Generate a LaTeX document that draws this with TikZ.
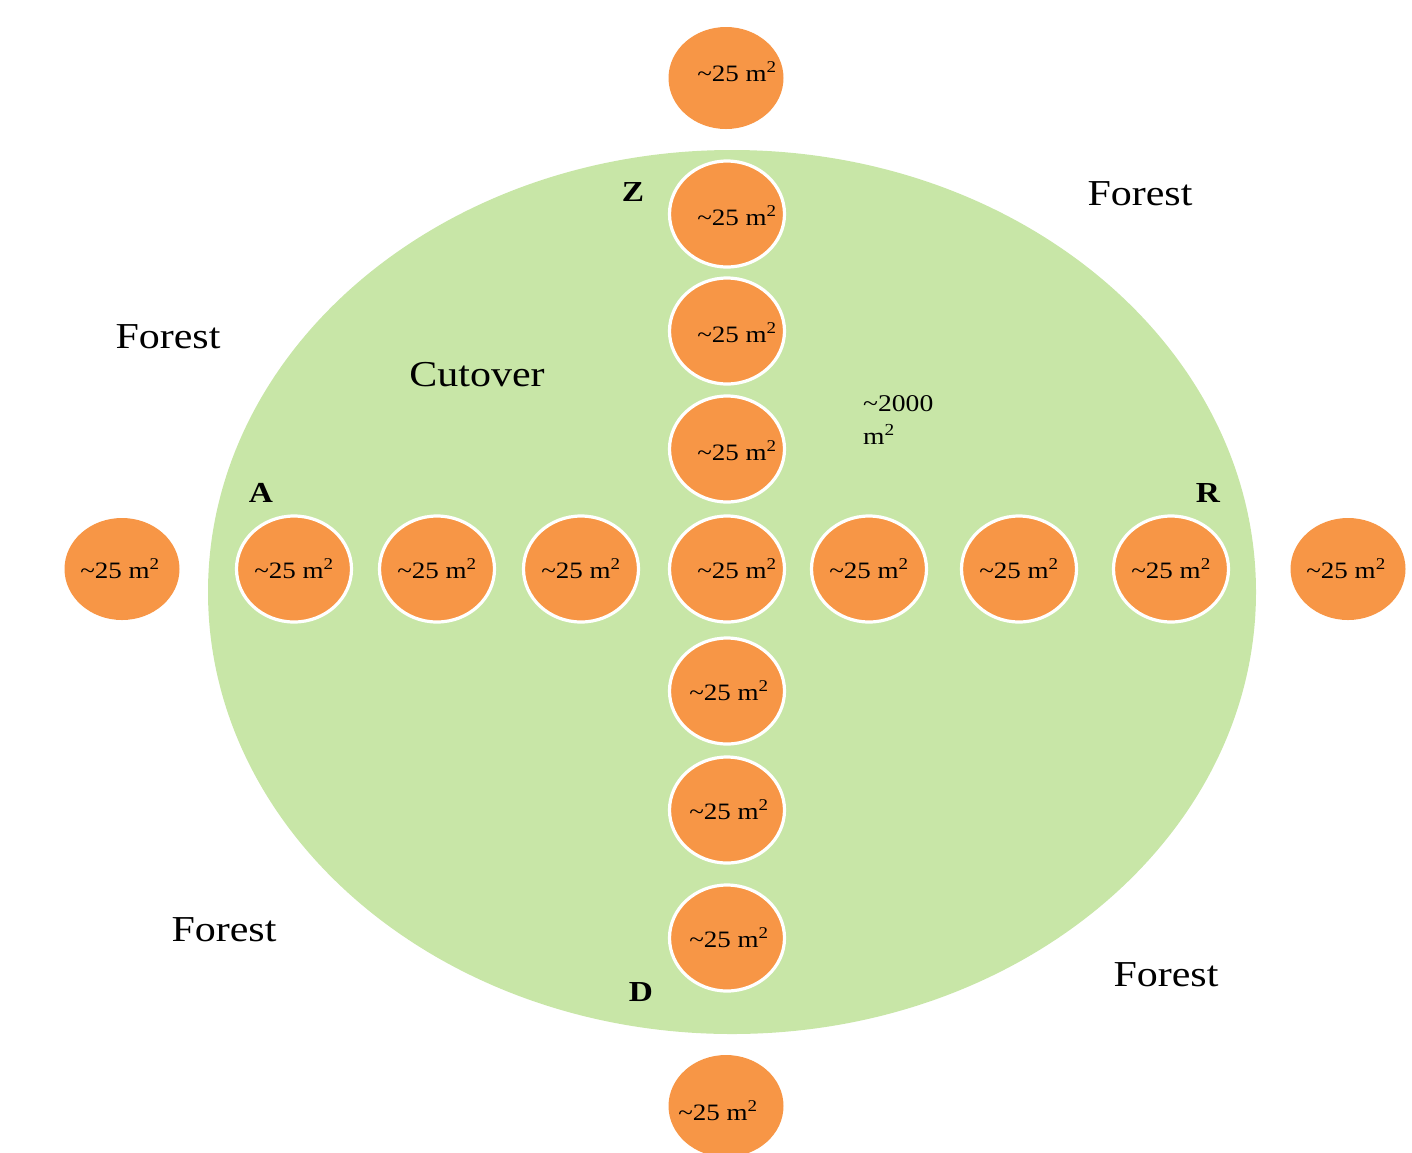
\documentclass[tikz,border=0pt]{standalone}
\usepackage{fontspec}
\setmainfont[FakeStretch=1.15]{Liberation Serif}
\usetikzlibrary{shapes.geometric}
\definecolor{plotorange}{HTML}{F79646}
\definecolor{cutgreen}{RGB}{200,230,167}
\begin{document}
\begin{tikzpicture}[x=1pt,y=-1pt,
  inspot/.style={ellipse,minimum width=115pt,minimum height=106pt,inner sep=0pt,fill=plotorange,draw=white,line width=3.2pt},
  outspot/.style={ellipse,minimum width=115pt,minimum height=102pt,inner sep=0pt,fill=plotorange},
  spottext/.style={inner sep=0pt,font=\fontsize{23.5}{28}\selectfont},
  letter/.style={inner sep=0pt,font=\fontsize{29}{34}\selectfont\bfseries},
  region/.style={inner sep=0pt,font=\fontsize{36.5}{42}\selectfont}
]
\useasboundingbox (0,0) rectangle (1412,1152);
\node[ellipse,fill=cutgreen,minimum width=1048pt,minimum height=884pt,inner sep=0pt] (cut) at (732,592) {};
% outer plots
\node[outspot] (ot) at (726,78) {};
\node[outspot] (ob) at (726,1106) {};
\node[outspot] (ol) at (122,569) {};
\node[outspot] (or) at (1348,569) {};
% horizontal transect
\node[inspot] (h1) at (294,569) {};
\node[inspot] (h2) at (437,569) {};
\node[inspot] (h3) at (581,569) {};
\node[inspot] (h4) at (727,569) {};
\node[inspot] (h5) at (869,569) {};
\node[inspot] (h6) at (1019,569) {};
\node[inspot] (h7) at (1171,569) {};
% vertical transect
\node[inspot] (v1) at (727,214) {};
\node[inspot] (v2) at (727,331) {};
\node[inspot] (v3) at (727,449) {};
\node[inspot] (v5) at (727,691) {};
\node[inspot] (v6) at (727,810) {};
\node[inspot] (v7) at (727,938) {};
% texts
\newcommand{\sq}{\textasciitilde25 m\textsuperscript{2}}
\node[spottext] (tot) at ([xshift=11pt,yshift=6pt]ot.center) {\sq};
\node[spottext] (tob) at ([xshift=-8pt,yshift=-5pt]ob.center) {\sq};
\node[spottext] (tol) at ([xshift=-2pt]ol.center) {\sq};
\node[spottext] (tor) at ([xshift=-2pt]or.center) {\sq};
\node[spottext] (th1) at (h1.center) {\sq};
\node[spottext] (th2) at (h2.center) {\sq};
\node[spottext] (th3) at (h3.center) {\sq};
\node[spottext] (th4) at ([xshift=10pt]h4.center) {\sq};
\node[spottext] (th5) at (h5.center) {\sq};
\node[spottext] (th6) at (h6.center) {\sq};
\node[spottext] (th7) at (h7.center) {\sq};
\node[spottext] (tv1) at ([xshift=10pt,yshift=-2pt]v1.center) {\sq};
\node[spottext] (tv2) at ([xshift=10pt,yshift=-2pt]v2.center) {\sq};
\node[spottext] (tv3) at ([xshift=10pt,yshift=-2pt]v3.center) {\sq};
\node[spottext] (tv5) at ([xshift=2pt]v5.center) {\sq};
\node[spottext] (tv6) at ([xshift=2pt]v6.center) {\sq};
\node[spottext] (tv7) at ([xshift=2pt]v7.center) {\sq};
% letters
\node[letter] (lz) at (633,192) {Z};
\node[letter] (la) at (261,493) {A};
\node[letter] (lr) at (1208,493) {R};
\node[letter] (ld) at (641,992) {D};
% regions
\node[region] (f1) at (168,337) {Forest};
\node[region] (f2) at (1140,194) {Forest};
\node[region] (f3) at (224,930) {Forest};
\node[region] (f4) at (1166,975) {Forest};
\node[region] (cutlbl) at (477,375) {Cutover};
\node[inner sep=0pt,anchor=north west,align=left,font=\fontsize{24}{33}\selectfont] (area) at (863,395) {\textasciitilde2000\\m\textsuperscript{2}};
\end{tikzpicture}
\end{document}
